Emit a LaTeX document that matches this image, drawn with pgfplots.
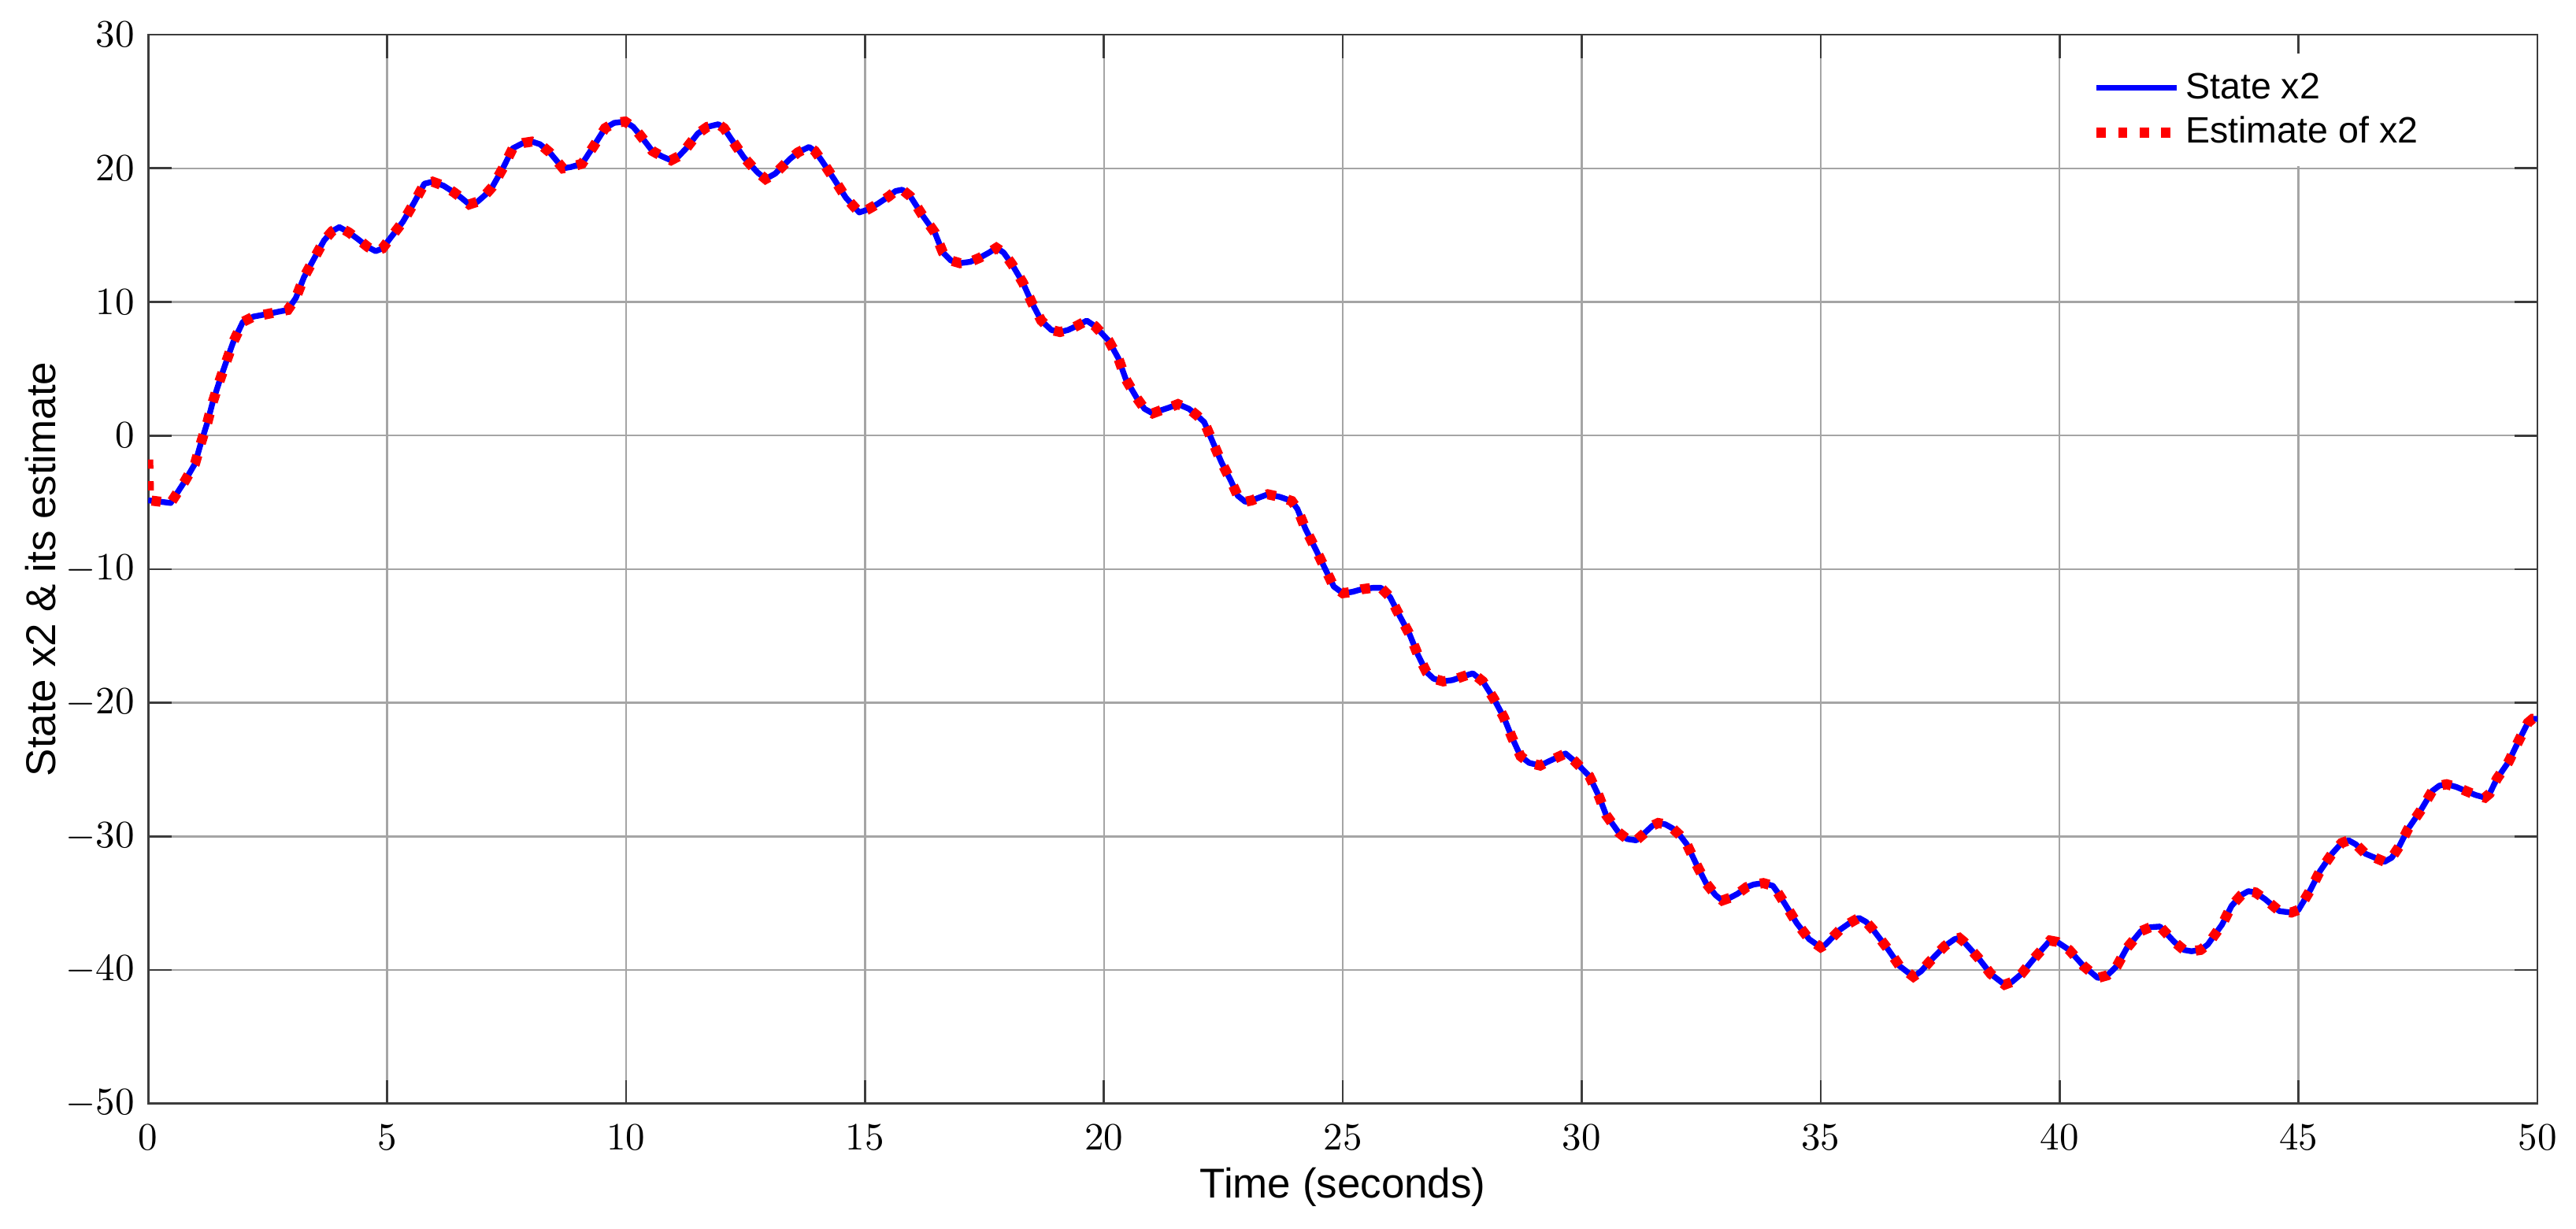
\documentclass[border=0pt]{standalone}
\usepackage{fontspec}
\newfontfamily\arial{Liberation Sans}
\usepackage{pgfplots}
\usepackage{pgfplotstable}
\pgfplotsset{compat=1.18}
\usetikzlibrary{calc}

\pgfplotstableread{
t v
0 -4.85
0.25 -4.95
0.47 -5.05
0.76 -3.45
0.98 -2.1
1.1 -0.6
1.24 1.0
1.35 2.5
1.49 4.05
1.64 5.6
1.78 7.0
1.98 8.5
2.2 8.9
2.5 9.1
2.77 9.3
2.92 9.4
3.09 10.3
3.26 11.85
3.48 13.3
3.68 14.6
3.85 15.3
4.0 15.6
4.2 15.2
4.39 14.7
4.6 14.1
4.76 13.8
4.9 14.0
5.05 14.7
5.33 16.0
5.56 17.4
5.78 18.85
5.95 19.0
6.18 18.7
6.4 18.2
6.55 17.8
6.72 17.3
6.89 17.5
7.05 18.0
7.2 18.6
7.43 20.06
7.63 21.5
7.85 21.9
8.03 22.0
8.2 21.8
8.4 21.2
8.68 20.0
8.85 20.1
9.08 20.35
9.33 21.7
9.56 23.0
9.75 23.4
9.98 23.5
10.15 23.1
10.29 22.5
10.55 21.3
10.75 20.9
10.94 20.6
11.1 20.9
11.26 21.5
11.5 22.6
11.7 23.1
11.93 23.3
12.05 23.0
12.2 22.2
12.47 20.8
12.75 19.7
12.92 19.2
13.12 19.6
13.43 20.7
13.6 21.2
13.83 21.6
13.95 21.3
14.11 20.5
14.37 19.1
14.6 17.8
14.88 16.7
15.05 16.9
15.27 17.35
15.5 17.9
15.64 18.3
15.78 18.4
15.95 17.9
16.2 16.5
16.46 15.2
16.63 13.7
16.8 13.1
16.99 12.9
17.2 13.0
17.4 13.3
17.6 13.7
17.75 14.05
17.9 13.7
18.08 12.8
18.31 11.4
18.49 9.96
18.69 8.6
18.9 7.9
19.08 7.75
19.25 7.9
19.43 8.2
19.64 8.6
19.81 8.2
20.1 7.1
20.3 5.8
20.46 4.2
20.69 2.8
20.85 2.0
21.02 1.66
21.2 1.9
21.37 2.1
21.55 2.35
21.78 2.0
21.95 1.5
22.1 1.0
22.28 -0.5
22.46 -2.0
22.66 -3.4
22.8 -4.5
22.96 -4.96
23.1 -4.85
23.28 -4.6
23.43 -4.4
23.69 -4.6
23.93 -4.9
24.05 -5.5
24.22 -7.0
24.43 -8.5
24.62 -9.9
24.81 -11.3
25.0 -11.8
25.2 -11.7
25.4 -11.5
25.63 -11.4
25.8 -11.4
25.99 -12.1
26.19 -13.5
26.4 -14.9
26.57 -16.4
26.75 -17.7
26.9 -18.2
27.1 -18.4
27.3 -18.3
27.54 -18.0
27.72 -17.8
27.93 -18.4
28.16 -19.7
28.37 -21.1
28.54 -22.6
28.72 -24.0
28.9 -24.5
29.13 -24.7
29.3 -24.4
29.48 -24.1
29.66 -23.8
29.86 -24.4
30.16 -25.5
30.36 -27.0
30.51 -28.4
30.77 -29.7
30.95 -30.2
31.14 -30.3
31.3 -29.8
31.48 -29.2
31.6 -29.0
31.75 -29.1
31.9 -29.4
32.05 -29.9
32.2 -30.6
32.4 -32.1
32.6 -33.5
32.8 -34.4
32.94 -34.8
33.1 -34.6
33.26 -34.3
33.45 -33.8
33.6 -33.6
33.8 -33.5
34.0 -33.7
34.1 -34.2
34.26 -35.1
34.5 -36.5
34.76 -37.7
35.0 -38.3
35.1 -38.1
35.4 -37.0
35.6 -36.5
35.8 -36.1
35.95 -36.4
36.1 -37.0
36.4 -38.4
36.65 -39.7
36.94 -40.5
37.1 -40.1
37.3 -39.3
37.6 -38.2
37.8 -37.7
37.9 -37.6
38.0 -37.9
38.3 -39.1
38.56 -40.3
38.85 -41.1
39.0 -40.9
39.2 -40.3
39.5 -39.0
39.8 -37.8
39.95 -37.9
40.2 -38.5
40.5 -39.7
40.8 -40.6
41.0 -40.4
41.2 -39.7
41.4 -38.4
41.7 -37.1
41.9 -36.8
42.1 -36.75
42.4 -37.9
42.6 -38.5
42.76 -38.6
42.95 -38.5
43.1 -38.1
43.4 -36.6
43.6 -35.2
43.8 -34.4
43.95 -34.1
44.1 -34.2
44.3 -34.7
44.6 -35.6
44.85 -35.7
45.0 -35.5
45.25 -34.0
45.45 -32.6
45.7 -31.3
45.9 -30.5
46.05 -30.3
46.2 -30.6
46.4 -31.3
46.6 -31.6
46.8 -31.9
46.95 -31.6
47.1 -30.8
47.3 -29.4
47.55 -28.1
47.8 -26.6
47.95 -26.2
48.1 -26.1
48.3 -26.3
48.5 -26.6
48.7 -26.9
48.9 -27.1
49.0 -26.8
49.15 -25.7
49.4 -24.4
49.6 -22.9
49.8 -21.5
49.9 -21.2
50.0 -21.2
}\statedata

\pgfplotstableread{
t v
0 -1.8
0.02 -4.85
0.25 -4.95
0.47 -5.05
0.76 -3.45
0.98 -2.1
1.1 -0.6
1.24 1.0
1.35 2.5
1.49 4.05
1.64 5.6
1.78 7.0
1.98 8.5
2.2 8.9
2.5 9.1
2.77 9.3
2.92 9.4
3.09 10.3
3.26 11.85
3.48 13.3
3.68 14.6
3.85 15.3
4.0 15.6
4.2 15.2
4.39 14.7
4.6 14.1
4.76 13.8
4.9 14.0
5.05 14.7
5.33 16.0
5.56 17.4
5.78 18.85
5.95 19.0
6.18 18.7
6.4 18.2
6.55 17.8
6.72 17.3
6.89 17.5
7.05 18.0
7.2 18.6
7.43 20.06
7.63 21.5
7.85 21.9
8.03 22.0
8.2 21.8
8.4 21.2
8.68 20.0
8.85 20.1
9.08 20.35
9.33 21.7
9.56 23.0
9.75 23.4
9.98 23.5
10.15 23.1
10.29 22.5
10.55 21.3
10.75 20.9
10.94 20.6
11.1 20.9
11.26 21.5
11.5 22.6
11.7 23.1
11.93 23.3
12.05 23.0
12.2 22.2
12.47 20.8
12.75 19.7
12.92 19.2
13.12 19.6
13.43 20.7
13.6 21.2
13.83 21.6
13.95 21.3
14.11 20.5
14.37 19.1
14.6 17.8
14.88 16.7
15.05 16.9
15.27 17.35
15.5 17.9
15.64 18.3
15.78 18.4
15.95 17.9
16.2 16.5
16.46 15.2
16.63 13.7
16.8 13.1
16.99 12.9
17.2 13.0
17.4 13.3
17.6 13.7
17.75 14.05
17.9 13.7
18.08 12.8
18.31 11.4
18.49 9.96
18.69 8.6
18.9 7.9
19.08 7.75
19.25 7.9
19.43 8.2
19.64 8.6
19.81 8.2
20.1 7.1
20.3 5.8
20.46 4.2
20.69 2.8
20.85 2.0
21.02 1.66
21.2 1.9
21.37 2.1
21.55 2.35
21.78 2.0
21.95 1.5
22.1 1.0
22.28 -0.5
22.46 -2.0
22.66 -3.4
22.8 -4.5
22.96 -4.96
23.1 -4.85
23.28 -4.6
23.43 -4.4
23.69 -4.6
23.93 -4.9
24.05 -5.5
24.22 -7.0
24.43 -8.5
24.62 -9.9
24.81 -11.3
25.0 -11.8
25.2 -11.7
25.4 -11.5
25.63 -11.4
25.8 -11.4
25.99 -12.1
26.19 -13.5
26.4 -14.9
26.57 -16.4
26.75 -17.7
26.9 -18.2
27.1 -18.4
27.3 -18.3
27.54 -18.0
27.72 -17.8
27.93 -18.4
28.16 -19.7
28.37 -21.1
28.54 -22.6
28.72 -24.0
28.9 -24.5
29.13 -24.7
29.3 -24.4
29.48 -24.1
29.66 -23.8
29.86 -24.4
30.16 -25.5
30.36 -27.0
30.51 -28.4
30.77 -29.7
30.95 -30.2
31.14 -30.3
31.3 -29.8
31.48 -29.2
31.6 -29.0
31.75 -29.1
31.9 -29.4
32.05 -29.9
32.2 -30.6
32.4 -32.1
32.6 -33.5
32.8 -34.4
32.94 -34.8
33.1 -34.6
33.26 -34.3
33.45 -33.8
33.6 -33.6
33.8 -33.5
34.0 -33.7
34.1 -34.2
34.26 -35.1
34.5 -36.5
34.76 -37.7
35.0 -38.3
35.1 -38.1
35.4 -37.0
35.6 -36.5
35.8 -36.1
35.95 -36.4
36.1 -37.0
36.4 -38.4
36.65 -39.7
36.94 -40.5
37.1 -40.1
37.3 -39.3
37.6 -38.2
37.8 -37.7
37.9 -37.6
38.0 -37.9
38.3 -39.1
38.56 -40.3
38.85 -41.1
39.0 -40.9
39.2 -40.3
39.5 -39.0
39.8 -37.8
39.95 -37.9
40.2 -38.5
40.5 -39.7
40.8 -40.6
41.0 -40.4
41.2 -39.7
41.4 -38.4
41.7 -37.1
41.9 -36.8
42.1 -36.75
42.4 -37.9
42.6 -38.5
42.76 -38.6
42.95 -38.5
43.1 -38.1
43.4 -36.6
43.6 -35.2
43.8 -34.4
43.95 -34.1
44.1 -34.2
44.3 -34.7
44.6 -35.6
44.85 -35.7
45.0 -35.5
45.25 -34.0
45.45 -32.6
45.7 -31.3
45.9 -30.5
46.05 -30.3
46.2 -30.6
46.4 -31.3
46.6 -31.6
46.8 -31.9
46.95 -31.6
47.1 -30.8
47.3 -29.4
47.55 -28.1
47.8 -26.6
47.95 -26.2
48.1 -26.1
48.3 -26.3
48.5 -26.6
48.7 -26.9
48.9 -27.1
49.0 -26.8
49.15 -25.7
49.4 -24.4
49.6 -22.9
49.8 -21.5
49.9 -21.2
50.0 -21.2
}\estdata

\definecolor{gridgray}{RGB}{165,165,165}
\definecolor{axgray}{RGB}{60,60,60}

\begin{document}
\begin{tikzpicture}
\begin{axis}[
  scale only axis,
  width=619pt, height=277pt,
  xmin=0, xmax=50, ymin=-50, ymax=30,
  xtick={0,5,...,50},
  ytick={-50,-40,...,30},
  grid=major,
  major grid style={gridgray, line width=0.5pt},
  axis line style={axgray, line width=0.55pt},
  tick style={axgray, line width=0.55pt},
  major tick length=6pt,
  tick align=inside,
  xtick pos=both, ytick pos=both,
  ticklabel style={font=\fontsize{10}{12}\selectfont},
  xticklabel style={yshift=-2pt},
  xlabel={\arial Time (seconds)},
  ylabel={\arial State x2 \& its estimate},
  xlabel style={at={(axis description cs:0.5,-0.078)}, anchor=center, font=\fontsize{10.8}{13}\selectfont},
  ylabel style={at={(axis description cs:-0.0449,0.5)}, anchor=center, font=\fontsize{10.8}{13}\selectfont},
  legend style={at={(axis cs:40.49,28.64)}, anchor=north west, draw=none, fill=white,
    font=\arial\fontsize{9.5}{11}\selectfont, inner xsep=2pt, inner ysep=3pt, row sep=0pt,
    nodes={inner sep=1pt, text height=7.6pt, text depth=2pt}},
  legend cell align=left,
  legend image code/.code={\draw[#1] (0pt,0pt) -- (20.8pt,0pt);},
]
\addplot[color={rgb,255:red,0;green,0;blue,255}, line width=1.5pt, line join=round] table[x=t,y=v] {\statedata};
\addlegendentry{State x2}
\addplot[color={rgb,255:red,255;green,0;blue,0}, line width=2.6pt, dash pattern=on 2.4pt off 3.2pt] table[x=t,y=v] {\estdata};
\addlegendentry{Estimate of x2}
\end{axis}
\pgfresetboundingbox
\path[use as bounding box] ($(current axis.south west)+(-38.4pt,-32.5pt)$) rectangle ($(current axis.north east)+(10pt,9pt)$);
\end{tikzpicture}
\end{document}
